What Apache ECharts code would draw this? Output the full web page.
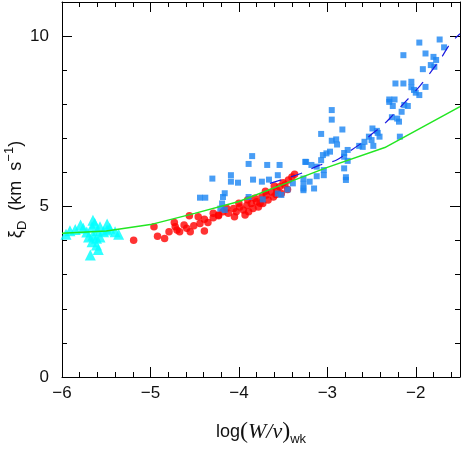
<!DOCTYPE html>
<html>
<head>
<meta charset="utf-8">
<script src="https://cdn.jsdelivr.net/npm/echarts@6/dist/echarts.min.js"></script>
<style>
  html, body { margin: 0; padding: 0; background: #fff; }
  #chart { width: 463px; height: 449px; }
</style>
</head>
<body>
<div id="chart"></div>
<script>
// cyan triangles
const triPoints = [
  [-5.955, 4.19], [-5.91, 4.29], [-5.85, 4.33], [-5.79, 4.46], [-5.76, 4.36],
  [-5.65, 4.60], [-5.63, 4.51], [-5.66, 4.41], [-5.57, 4.41], [-5.49, 4.49],
  [-5.46, 4.36], [-5.53, 4.26], [-5.40, 4.26], [-5.36, 4.19], [-5.70, 4.11],
  [-5.65, 4.16], [-5.61, 4.07], [-5.57, 4.11], [-5.66, 3.97], [-5.61, 3.87],
  [-5.59, 3.74], [-5.68, 3.58], [-5.49, 4.31], [-5.72, 4.25], [-5.60, 4.30]
];

// red circles
const redPoints = [
  [-5.19, 4.01], [-4.96, 4.41], [-4.92, 4.13], [-4.84, 4.06], [-4.79, 4.26],
  [-4.73, 4.53], [-4.72, 4.41], [-4.70, 4.31], [-4.67, 4.26], [-4.62, 4.46],
  [-4.59, 4.36], [-4.55, 4.26], [-4.56, 4.73], [-4.51, 4.44], [-4.46, 4.70],
  [-4.44, 4.50], [-4.39, 4.28], [-4.39, 4.63], [-4.35, 4.53], [-4.29, 4.80],
  [-4.29, 4.67], [-4.23, 4.73], [-4.23, 4.75], [-4.18, 4.85], [-4.12, 4.80],
  [-4.06, 4.94], [-4.03, 4.85], [-3.99, 4.99], [-3.95, 4.90], [-3.91, 5.04],
  [-3.89, 4.85], [-3.86, 5.09], [-3.84, 4.94], [-3.80, 5.14], [-3.78, 4.99],
  [-3.74, 5.28], [-3.73, 5.09], [-3.69, 5.34], [-3.67, 5.19], [-3.63, 5.43],
  [-3.61, 5.28], [-3.57, 5.48], [-3.54, 5.58], [-3.52, 5.38], [-3.48, 5.63],
  [-3.44, 5.78], [-3.40, 5.87], [-3.37, 5.95], [-4.05, 4.70], [-3.93, 4.75],
  [-3.82, 5.24], [-3.45, 5.50], [-3.50, 5.70], [-3.60, 5.60], [-3.70, 5.45],
  [-3.90, 5.20], [-4.00, 5.10], [-4.14, 4.95], [-3.76, 5.10], [-3.58, 5.35]
];

// blue squares
const bluePoints = [
  [-4.30, 5.82], [-4.44, 5.26], [-4.38, 5.26], [-4.21, 4.94], [-3.85, 6.48],
  [-3.89, 6.25], [-3.68, 6.22], [-3.54, 6.22], [-4.09, 5.92], [-4.09, 5.73],
  [-4.01, 5.70], [-3.84, 5.79], [-3.74, 5.73], [-3.66, 5.79], [-3.56, 5.92],
  [-4.16, 5.39], [-4.18, 5.28], [-4.19, 5.09], [-4.16, 4.90], [-3.89, 5.28],
  [-3.73, 5.21], [-3.56, 5.38], [-3.52, 5.34], [-3.45, 5.50], [-3.39, 5.68],
  [-3.27, 5.82], [-3.27, 5.48], [-3.25, 6.31], [-2.95, 7.83], [-2.95, 7.55],
  [-3.07, 7.13], [-2.83, 7.26], [-2.95, 6.93], [-2.90, 6.97], [-2.89, 6.82],
  [-2.97, 6.61], [-3.01, 6.56], [-3.05, 6.51], [-3.07, 6.36], [-3.24, 6.31],
  [-3.18, 6.22], [-3.12, 6.17], [-3.04, 6.07], [-3.04, 5.92], [-3.12, 5.89],
  [-3.20, 5.73], [-3.27, 5.67], [-3.27, 5.53], [-3.15, 5.53], [-2.81, 6.57],
  [-2.77, 6.66], [-2.77, 6.34], [-2.81, 6.12], [-2.79, 5.86], [-2.79, 5.78],
  [-2.81, 6.46], [-2.64, 6.78], [-2.60, 6.75], [-2.58, 6.90], [-2.53, 7.05],
  [-2.49, 7.29], [-2.50, 6.95], [-2.48, 6.78], [-2.43, 7.16], [-2.41, 7.05],
  [-2.44, 7.22], [-2.18, 7.05], [-2.30, 8.14], [-2.30, 8.07], [-2.24, 8.14],
  [-2.26, 7.95], [-2.27, 7.62], [-2.21, 7.58], [-2.19, 7.49], [-2.16, 7.78],
  [-2.13, 7.98], [-2.09, 7.95], [-2.23, 8.61], [-2.14, 8.61], [-2.05, 8.66],
  [-2.05, 8.50], [-2.02, 8.42], [-1.96, 8.27], [-1.89, 8.51], [-2.00, 8.34],
  [-2.14, 9.44], [-1.96, 9.81], [-1.92, 9.03], [-1.89, 9.49], [-1.83, 9.15],
  [-1.80, 9.39], [-1.77, 9.30], [-1.79, 9.10], [-1.73, 9.90], [-1.68, 9.67]
];

// green model line
const greenLine = [
  [-6.0, 4.22], [-5.5, 4.28], [-5.0, 4.47], [-4.5, 4.80], [-4.0, 5.15],
  [-3.5, 5.65], [-3.0, 6.15], [-2.35, 6.73], [-1.5, 7.93]
];

// blue dashed fit
const blueFit = [
  [-3.65, 5.68], [-3.3, 5.97], [-3.1, 6.2], [-2.9, 6.36], [-2.75, 6.62],
  [-2.62, 6.85], [-2.5, 7.12], [-2.37, 7.39], [-2.26, 7.68], [-2.14, 8.01],
  [-1.95, 8.55], [-1.8, 9.05], [-1.71, 9.37], [-1.61, 9.78], [-1.5, 10.07]
];

const xMin = -6, xMax = -1.5;
const yMin = 0, yMax = 11;

const tickFont = { fontFamily: 'Liberation Sans, Arial, sans-serif', fontSize: 17, color: '#111' };
// only whole values inside the frame get a label
const fmtX = (v) => {
  if (Math.abs(v - Math.round(v)) > 1e-6 || v > -1.9) return '';
  return String(Math.round(v)).replace('-', '\u2212');
};
const fmtY = (v) => (v > 10.5 ? '' : String(Math.round(v)));

function xAxisOf(pos, interval, len, main) {
  return {
    type: 'value', position: pos, min: xMin, max: xMax, interval: interval,
    axisLine: { show: main, onZero: false, lineStyle: { color: '#000', width: 1 } },
    axisTick: { show: true, inside: true, length: len, lineStyle: { color: '#000', width: 1 } },
    axisLabel: { show: main && pos === 'bottom', margin: 8, formatter: fmtX, ...tickFont },
    splitLine: { show: false }
  };
}

function yAxisOf(pos, interval, len, main) {
  return {
    type: 'value', position: pos, min: yMin, max: yMax, interval: interval,
    axisLine: { show: main, onZero: false, lineStyle: { color: '#000', width: 1 } },
    axisTick: { show: true, inside: true, length: len, lineStyle: { color: '#000', width: 1 } },
    axisLabel: { show: main && pos === 'left', margin: 13, formatter: fmtY, ...tickFont },
    splitLine: { show: false }
  };
}

const xAxes = [
  xAxisOf('bottom', 1, 10, true),
  xAxisOf('top', 1, 10, true),
  xAxisOf('bottom', 0.2, 5, false),
  xAxisOf('top', 0.2, 5, false)
];
xAxes[0].name = '{t|log}{p|(}{i|W/ν}{p|)}{s|wk}';
xAxes[0].nameLocation = 'middle';
xAxes[0].nameGap = 41;
xAxes[0].nameMoveOverlap = false;
xAxes[0].nameTextStyle = {
  rich: {
    t: { fontFamily: 'Liberation Sans, sans-serif', fontSize: 18, color: '#111', lineHeight: 28 },
    p: { fontFamily: 'Liberation Serif, serif', fontSize: 24, color: '#111', lineHeight: 28 },
    i: { fontFamily: 'Liberation Serif, serif', fontStyle: 'italic', fontSize: 22, color: '#111', lineHeight: 28 },
    s: { fontFamily: 'Liberation Sans, sans-serif', fontSize: 13, color: '#111', verticalAlign: 'bottom', lineHeight: 13 }
  }
};

const yAxes = [
  yAxisOf('left', 5, 10, true),
  yAxisOf('right', 5, 10, true),
  yAxisOf('left', 1, 5, false),
  yAxisOf('right', 1, 5, false)
];
yAxes[0].name = '{m|ξ}{s|D}{m|  (km  s}{u|−1}{m|)}';
yAxes[0].nameLocation = 'middle';
yAxes[0].nameGap = 33;
yAxes[0].nameMoveOverlap = false;
yAxes[0].nameTextStyle = {
  rich: {
    m: { fontFamily: 'Liberation Sans, sans-serif', fontSize: 18, color: '#111', lineHeight: 26 },
    s: { fontFamily: 'Liberation Sans, sans-serif', fontSize: 13, color: '#111', verticalAlign: 'bottom', lineHeight: 13 },
    u: { fontFamily: 'Liberation Sans, sans-serif', fontSize: 13, color: '#111', verticalAlign: 'top', lineHeight: 13 }
  }
};

const chart = echarts.init(document.getElementById('chart'));
chart.setOption({
  animation: false,
  backgroundColor: '#fff',
  grid: { left: 62, right: 3, top: 2, bottom: 72, containLabel: false, outerBoundsMode: 'none' },
  xAxis: xAxes,
  yAxis: yAxes,
  series: [
    {
      type: 'scatter', data: triPoints, symbol: 'triangle', symbolSize: 11,
      itemStyle: { color: '#00ffff' }
    },
    {
      type: 'line', data: greenLine, showSymbol: false, symbol: 'none',
      lineStyle: { color: '#22e622', width: 1.5 }, z: 3
    },
    {
      type: 'scatter', data: redPoints, symbol: 'circle', symbolSize: 7.5,
      itemStyle: { color: '#ff0000' }
    },
    {
      type: 'scatter', data: bluePoints, symbol: 'rect', symbolSize: 6,
      itemStyle: { color: '#1a84f2' }
    },
    {
      type: 'line', data: blueFit, showSymbol: false, symbol: 'none', smooth: 0.3,
      lineStyle: { color: '#1a1ae0', width: 1.2, type: [12, 10] }, z: 4
    }
  ]
});
</script>
</body>
</html>
